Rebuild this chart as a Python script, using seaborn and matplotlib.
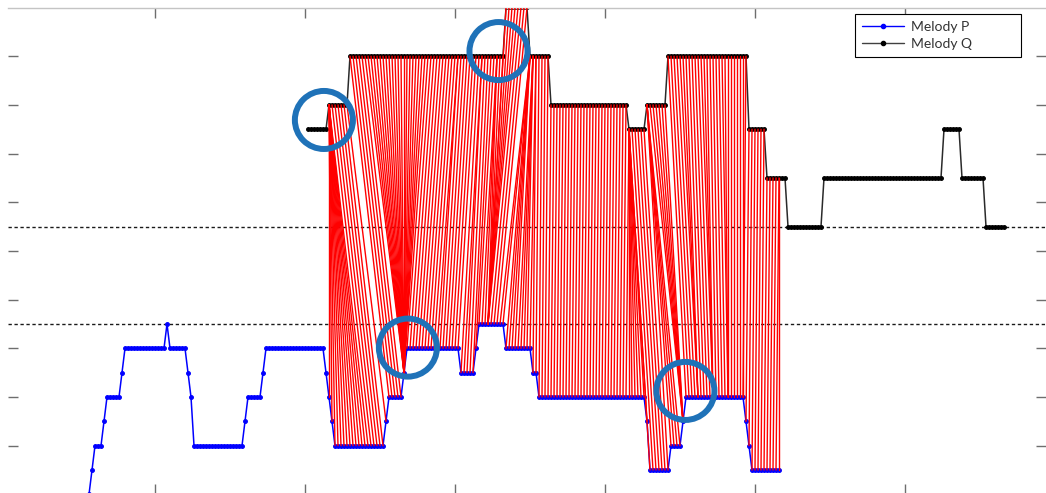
import numpy as np
import pandas as pd
import matplotlib
matplotlib.use("Agg")
import matplotlib.pyplot as plt
from matplotlib.lines import Line2D
import seaborn as sns

# ---------------- data ----------------
# Melody P: first sample index, then pitch runs (level, run length)
P_START = 28
P_LEVELS = [-2, -1, 0, 1, 2, 3, 4, 5, 4, 3, 2, 0, 1, 2, 3, 4, 3, 2, 1, 0, 1, 2, 3, 4,
            3, 4, 5, 4, 3, 2, 1, -1, 0, 1, 2, 1, 0, -1]
P_COUNTS = [1, 1, 3, 1, 5, 1, 14, 1, 6, 1, 1, 17, 1, 5, 1, 20, 1, 1, 1, 17, 1, 5, 1, 18,
            5, 1, 9, 9, 2, 36, 1, 7, 4, 1, 20, 1, 1, 10]

# Melody Q (drawn shifted upwards)
Q_START = 101
Q_LEVELS = [13, 14, 16, 18, 16, 14, 13, 14, 16, 13, 11, 9, 11, 13, 11, 9]
Q_COUNTS = [7, 7, 52, 8, 7, 26, 6, 7, 27, 6, 7, 12, 40, 6, 8, 7]

# DTW warping path: first matched pair, then moves (d = both advance,
# p = only P advances, q = only Q advances) with their run lengths
PATH_START = (108, 108)
PATH_MOVES = ['p', 'd', 'q', 'd', 'p', 'd', 'p', 'd', 'p', 'q', 'd', 'p',
              'd', 'p', 'd', 'p', 'd', 'p', 'd', 'p', 'd', 'q', 'd', 'q', 'd', 'q',
              'd', 'q', 'd', 'q', 'd', 'p']
PATH_COUNTS = [13, 12, 20, 11, 1, 8, 1, 5, 2, 7, 4, 5,
               1, 3, 1, 1, 31, 8, 6, 4, 1, 5, 5, 2, 5, 2,
               5, 2, 5, 1, 11, 1]

# reference levels (dotted lines)
REF_LEVELS = [5, 9]

# highlight circles (sample index, level)
CIRCLE_X = [106.3, 164.5, 134.3, 226.8]
CIRCLE_Y = [13.38, 16.21, 4.03, 2.25]

X_TICKS = [50, 100, 150, 200, 250, 300]
Y_TICKS = [0, 2, 4, 6, 8, 10, 12, 14, 16]

# ---------------- build series ----------------
P = np.repeat(P_LEVELS, P_COUNTS).astype(float)
Q = np.repeat(Q_LEVELS, Q_COUNTS).astype(float)
p_idx = np.arange(P_START, P_START + len(P))
q_idx = np.arange(Q_START, Q_START + len(Q))
P_of = dict(zip(p_idx, P))
Q_of = dict(zip(q_idx, Q))

pairs = [PATH_START]
for mv, cnt in zip(PATH_MOVES, PATH_COUNTS):
    for _ in range(cnt):
        i, j = pairs[-1]
        if mv == 'd':
            pairs.append((i + 1, j + 1))
        elif mv == 'p':
            pairs.append((i + 1, j))
        else:
            pairs.append((i, j + 1))

rows = []
for k, (i, j) in enumerate(pairs):
    rows.append((k, i, P_of[i]))
    rows.append((k, j, Q_of[j]))
align_df = pd.DataFrame(rows, columns=["pair", "x", "y"])
p_df = pd.DataFrame({"x": p_idx, "y": P})
q_df = pd.DataFrame({"x": q_idx, "y": Q})

# ---------------- figure ----------------
sns.set_style("white")
plt.rcParams["font.family"] = ["Lato", "DejaVu Sans"]

W, H = 1046, 493
fig = plt.figure(figsize=(W / 100, H / 100), dpi=100)
ax_left, ax_top, ax_right, ax_bottom = 7.5, 7.5, 1046.0, 494.4
ax = fig.add_axes([ax_left / W, 1 - ax_bottom / H,
                   (ax_right - ax_left) / W, (ax_bottom - ax_top) / H])

blue = "#0000ff"
for lv in REF_LEVELS:
    ax.axhline(lv, color="#1a1a1a", lw=1.0, ls=(0, (2.4, 1.9)), zorder=1)

sns.lineplot(data=p_df, x="x", y="y", ax=ax, color=blue, lw=1.1, marker=".",
             markersize=5.5, markeredgecolor=blue, markerfacecolor=blue,
             zorder=2, legend=False)
sns.lineplot(data=q_df, x="x", y="y", ax=ax, color="#2a2a2a", lw=1.1, marker=".",
             markersize=5.5, markeredgecolor="black", markerfacecolor="black",
             zorder=2, legend=False)
sns.lineplot(data=align_df, x="x", y="y", units="pair", estimator=None, sort=False,
             ax=ax, color="#ff0000", lw=1.0, zorder=3, legend=False)

ax.scatter(CIRCLE_X, CIRCLE_Y, s=41.8 ** 2, facecolors="none",
           edgecolors="#1f72b8", linewidths=4.3, zorder=6, clip_on=False)

ax.set_xlim(0.833, 347.0)
ax.set_ylim(-2, 18)
ax.set_xticks(X_TICKS)
ax.set_yticks(Y_TICKS)
ax.set_xlabel("")
ax.set_ylabel("")
ax.tick_params(direction="in", length=7.2, width=1.0, color="#6e6e6e",
               top=True, right=True, bottom=True, left=True,
               labelbottom=False, labelleft=False)
for side in ["left", "right", "bottom"]:
    ax.spines[side].set_visible(False)
ax.spines["top"].set_color("#c4c4c4")
ax.spines["top"].set_linewidth(1.0)

handles = [Line2D([], [], color=blue, lw=1.0, marker=".", markersize=6),
           Line2D([], [], color="#404040", lw=1.0, marker=".", markersize=6,
                  markerfacecolor="black", markeredgecolor="black")]
leg_x0 = (855 - ax_left) / (ax_right - ax_left)
leg_w = 166 / (ax_right - ax_left)
leg_top = 1 - (14 - ax_top) / (ax_bottom - ax_top)
leg = ax.legend(handles, ["Melody P", "Melody Q"], loc="upper left",
                bbox_to_anchor=(leg_x0, leg_top - 0.1, leg_w, 0.1), mode="expand",
                borderaxespad=0, fancybox=False, framealpha=1, edgecolor="black",
                fontsize=10, handlelength=3.0, handletextpad=0.55, labelspacing=0.35,
                borderpad=0.5)
leg.get_frame().set_linewidth(0.8)
for t in leg.get_texts():
    t.set_color("#333333")

fig.savefig("out.png", dpi=100)
